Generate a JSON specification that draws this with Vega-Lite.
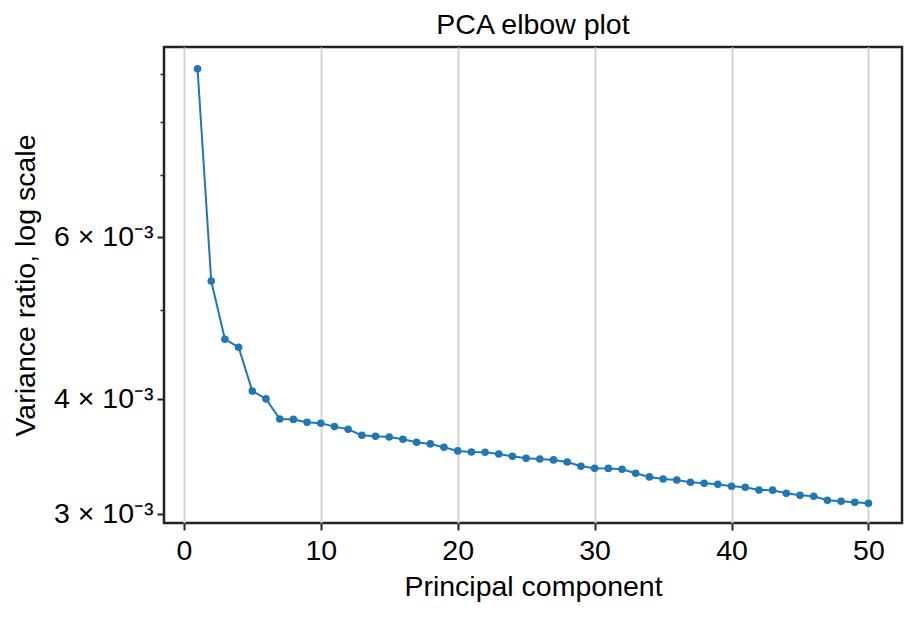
{
  "$schema": "https://vega.github.io/schema/vega-lite/v6.json",
  "width": 738,
  "height": 476,
  "autosize": {"type": "none"},
  "padding": {"left": 164, "top": 47, "right": 15, "bottom": 94},
  "background": "white",
  "title": {"text": "PCA elbow plot", "font": "Liberation Sans", "fontSize": 28.5, "fontWeight": "normal", "color": "black", "anchor": "middle", "offset": 8},
  "config": {
    "view": {"stroke": "#222222", "strokeWidth": 2.5},
    "axis": {"labelFont": "Liberation Sans", "titleFont": "Liberation Sans", "labelColor": "black", "titleColor": "black", "titleFontWeight": "normal", "domain": false, "tickColor": "#222222", "tickWidth": 2}
  },
  "data": {"values": [
    {"pc": 1, "v": 0.00913}, {"pc": 2, "v": 0.00537}, {"pc": 3, "v": 0.004643}, {"pc": 4, "v": 0.004551},
    {"pc": 5, "v": 0.00408}, {"pc": 6, "v": 0.0040}, {"pc": 7, "v": 0.003804}, {"pc": 8, "v": 0.0038},
    {"pc": 9, "v": 0.003773}, {"pc": 10, "v": 0.003763}, {"pc": 11, "v": 0.003732}, {"pc": 12, "v": 0.003707},
    {"pc": 13, "v": 0.003652}, {"pc": 14, "v": 0.003643}, {"pc": 15, "v": 0.003637}, {"pc": 16, "v": 0.003616},
    {"pc": 17, "v": 0.003589}, {"pc": 18, "v": 0.003574}, {"pc": 19, "v": 0.003544}, {"pc": 20, "v": 0.003512},
    {"pc": 21, "v": 0.003503}, {"pc": 22, "v": 0.0035}, {"pc": 23, "v": 0.003485}, {"pc": 24, "v": 0.003465},
    {"pc": 25, "v": 0.003448}, {"pc": 26, "v": 0.003442}, {"pc": 27, "v": 0.003434}, {"pc": 28, "v": 0.003416},
    {"pc": 29, "v": 0.00338}, {"pc": 30, "v": 0.003363}, {"pc": 31, "v": 0.003362}, {"pc": 32, "v": 0.003355},
    {"pc": 33, "v": 0.003321}, {"pc": 34, "v": 0.003291}, {"pc": 35, "v": 0.003274}, {"pc": 36, "v": 0.003266},
    {"pc": 37, "v": 0.003247}, {"pc": 38, "v": 0.003239}, {"pc": 39, "v": 0.003231}, {"pc": 40, "v": 0.003215},
    {"pc": 41, "v": 0.003207}, {"pc": 42, "v": 0.003185}, {"pc": 43, "v": 0.003184}, {"pc": 44, "v": 0.003159},
    {"pc": 45, "v": 0.003143}, {"pc": 46, "v": 0.003136}, {"pc": 47, "v": 0.003104}, {"pc": 48, "v": 0.003097},
    {"pc": 49, "v": 0.003089}, {"pc": 50, "v": 0.003081}
  ]},
  "encoding": {
    "x": {"field": "pc", "type": "quantitative",
      "scale": {"domain": [-1.45, 52.45], "nice": false, "zero": false},
      "axis": {"title": "Principal component", "values": [0, 10, 20, 30, 40, 50], "grid": true, "gridColor": "#d3d3d3", "gridWidth": 2,
        "labelFontSize": 28.5, "titleFontSize": 28.5, "tickSize": 7, "labelPadding": 6, "titlePadding": 8, "labelFlush": false, "labelOverlap": false}},
    "y": {"field": "v", "type": "quantitative",
      "scale": {"type": "log", "domain": [0.002933, 0.00964], "nice": false, "zero": false},
      "axis": {"title": "Variance ratio, log scale", "grid": false,
        "values": [0.003, 0.004, 0.005, 0.006, 0.007, 0.008, 0.009],
        "labelExpr": "indexof([3,4,6], round(datum.value*1000)) >= 0 ? round(datum.value*1000) + ' × 10⁻³' : ''",
        "tickSize": {"condition": {"test": "indexof([3,4,6], round(datum.value*1000)) >= 0", "value": 7}, "value": 4},
        "tickWidth": {"condition": {"test": "indexof([3,4,6], round(datum.value*1000)) >= 0", "value": 2}, "value": 1.5},
        "labelFontSize": 28.5, "titleFontSize": 28.5, "labelPadding": 4, "titlePadding": 13, "labelOverlap": false, "labelFlush": false}}
  },
  "layer": [
    {"mark": {"type": "line", "color": "#1f77b4", "strokeWidth": 2}},
    {"mark": {"type": "circle", "color": "#1f77b4", "opacity": 1, "size": 58}}
  ]
}
